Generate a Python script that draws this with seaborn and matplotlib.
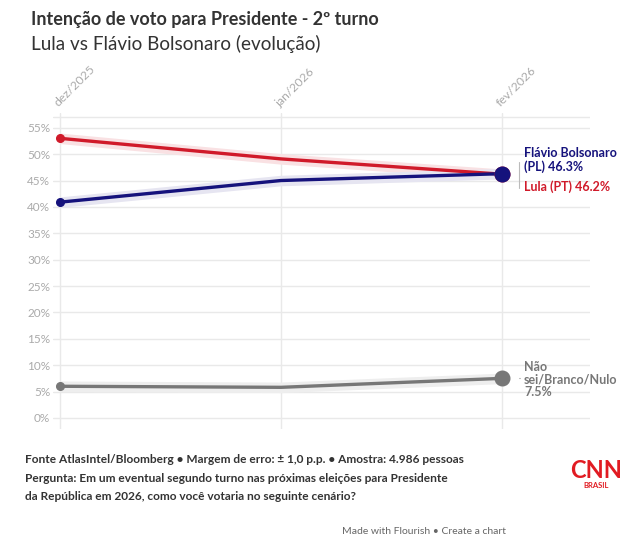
import pandas as pd
import matplotlib.pyplot as plt
import seaborn as sns

# data
months = ['dez/2025', 'jan/2026', 'fev/2026']
lula = [53.0, 49.1, 46.2]
flavio = [40.9, 45.0, 46.3]
nao_sei = [6.0, 5.8, 7.5]
margin = 1.0

series_names = ['Lula (PT)', 'Flávio Bolsonaro (PL)', 'Não sei/Branco/Nulo']
series_values = [lula, flavio, nao_sei]
colors = ['#d01a2a', '#15127c', '#777777']
band_colors = ['#f9e1e3', '#e6e5f1', '#eeeeee']

rows = []
for name, vals in zip(series_names, series_values):
    for i, v in enumerate(vals):
        rows.append({'mes': i, 'valor': v, 'serie': name})
df = pd.DataFrame(rows)

sns.set_style('white')
plt.rcParams['font.family'] = ['Lato', 'DejaVu Sans']

fig = plt.figure(figsize=(6.38, 5.46), dpi=100)
ax = fig.add_axes([53 / 638, 117 / 546, 537 / 638, 316 / 546])

# grid
yticks = list(range(0, 60, 5))
for y in yticks:
    ax.axhline(y, color='#e9e9e9', lw=1, zorder=0)
ax.axhline(57.1, color='#e9e9e9', lw=1, zorder=0)
for i in range(len(months)):
    ax.axvline(i, color='#e9e9e9', lw=1, zorder=0)

# error bands
for vals, bc in zip(series_values, band_colors):
    x = list(range(len(vals)))
    ax.fill_between(x, [v - margin for v in vals], [v + margin for v in vals],
                    color=bc, lw=0, zorder=1)

sns.lineplot(data=df, x='mes', y='valor', hue='serie', palette=colors,
             hue_order=series_names, lw=2.4, legend=False, ax=ax, zorder=3)

for vals, c in zip(series_values, colors):
    ax.plot(0, vals[0], 'o', color=c, ms=5.5, zorder=4)
    ax.plot(len(vals) - 1, vals[-1], 'o', color=c, ms=10.5, zorder=4)

ax.set_xlim(-7 * 2 / 442, 2 + 88 * 2 / 442)
ax.set_ylim(-2.1, 57.8)
ax.set_yticks(yticks)
ax.set_yticklabels([f'{y}%' for y in yticks], color='#aaaaaa', fontsize=8.5)
ax.set_xticks(range(len(months)))
ax.xaxis.tick_top()
ax.set_xticklabels(months, color='#aaaaaa', fontsize=8.8, rotation=45,
                   ha='left', va='bottom', rotation_mode='anchor')
ax.tick_params(length=0, pad=2)
ax.tick_params(axis='x', pad=3)
ax.set_xlabel('')
ax.set_ylabel('')
sns.despine(ax=ax, left=True, bottom=True, top=True, right=True)

# end labels
lx = 2 + 22 * 2 / 442
ax.text(lx, 48.9, 'Flávio Bolsonaro\n(PL) 46.3%', color=colors[1], fontsize=9,
        fontweight='bold', va='center', ha='left', linespacing=1.05)
ax.text(lx, 43.9, 'Lula (PT) 46.2%', color=colors[0], fontsize=9,
        fontweight='bold', va='center', ha='left')
ax.text(lx, 7.3, 'Não\nsei/Branco/Nulo\n7.5%', color=colors[2], fontsize=9,
        fontweight='bold', va='center', ha='left', linespacing=1.05)
bx = 2 + 17 * 2 / 442
ax.plot([bx, bx], [43.6, 48.5], color='#bbbbbb', lw=0.8, clip_on=False)
ax.plot([bx, bx + 0.006], [7.5, 7.5], color='#bbbbbb', lw=0.8, clip_on=False)

# titles
fig.text(31 / 638, 1 - 19 / 546, 'Intenção de voto para Presidente - 2º turno',
         fontsize=13, fontweight='bold', color='#333333', va='center')
fig.text(31 / 638, 1 - 44 / 546, 'Lula vs Flávio Bolsonaro (evolução)',
         fontsize=13.6, color='#333333', va='center')

footer = ('Fonte AtlasIntel/Bloomberg • Margem de erro: ± 1,0 p.p. • Amostra: 4.986 pessoas\n'
          'Pergunta: Em um eventual segundo turno nas próximas eleições para Presidente\n'
          'da República em 2026, como você votaria no seguinte cenário?')
fig.text(25 / 638, 1 - 454 / 546, footer, fontsize=8.6, fontweight='bold',
         color='#333333', va='top', linespacing=1.85)

# logo
fig.text(596 / 638, 1 - 470 / 546, 'CNN', fontsize=17, fontweight='bold',
         color='#e11b22', ha='center', va='center')
fig.text(596 / 638, 1 - 486 / 546, 'BRASIL', fontsize=5.5, fontweight='bold',
         color='#e11b22', ha='center', va='center')

fig.text(506 / 638, 1 - 532 / 546, 'Made with Flourish • Create a chart',
         fontsize=7.5, color='#666666', ha='right', va='center')

fig.savefig('out.png', dpi=100)
